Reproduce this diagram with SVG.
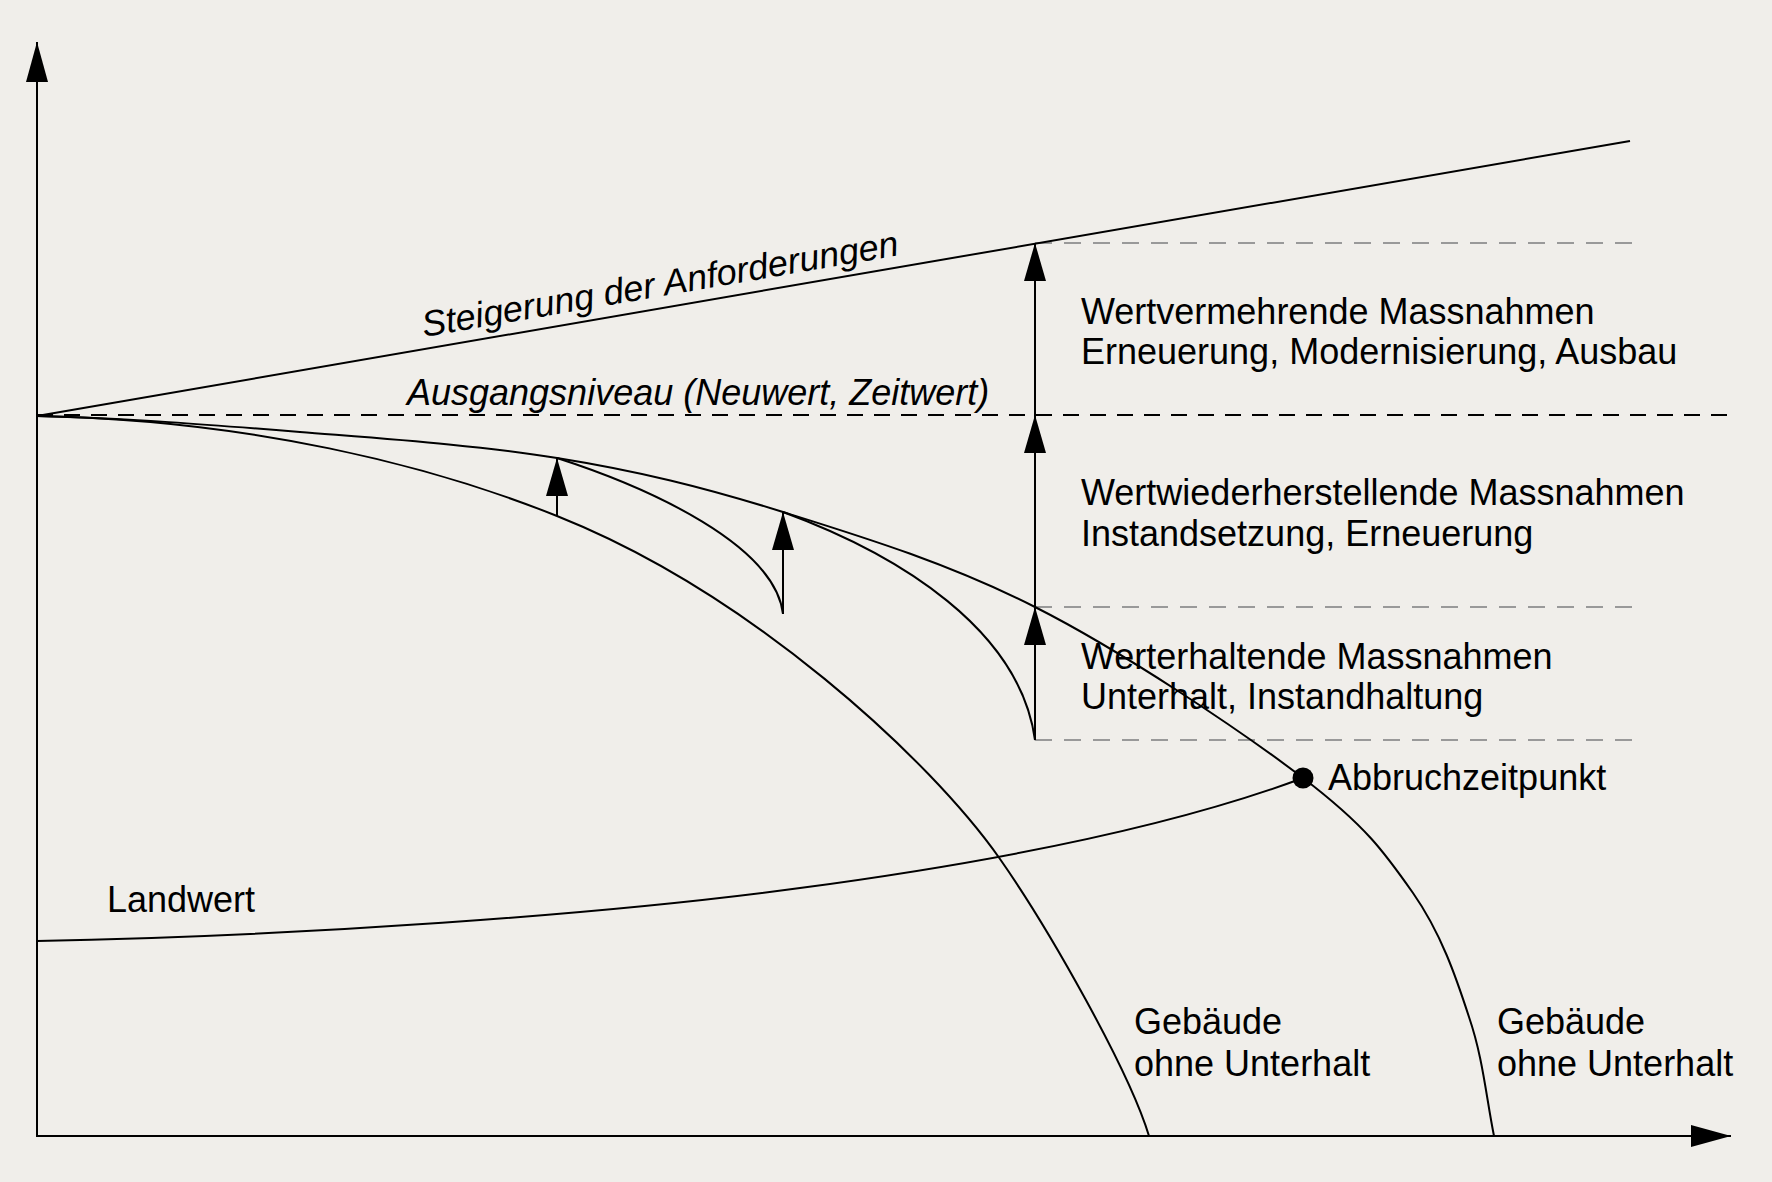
<svg xmlns="http://www.w3.org/2000/svg" width="1772" height="1182" viewBox="0 0 1772 1182">
<defs>
<style>
.ln{fill:none;stroke:#000;stroke-width:2}
.dash{fill:none;stroke:#000;stroke-width:2;stroke-dasharray:16 11}
.gdash{fill:none;stroke:#999;stroke-width:2;stroke-dasharray:17 12}
.t{font-family:"Liberation Sans",Arial,Helvetica,sans-serif;font-size:36px;fill:#000}
.ti{font-family:"Liberation Sans",Arial,Helvetica,sans-serif;font-size:36px;font-style:italic;fill:#000}
</style>
<marker id="ah" markerUnits="userSpaceOnUse" markerWidth="40" markerHeight="24" refX="38" refY="11" orient="auto">
<path d="M0,0 L38,11 L0,22 Z" fill="#000"/>
</marker>
<marker id="ax" markerUnits="userSpaceOnUse" markerWidth="42" markerHeight="24" refX="40" refY="11" orient="auto">
<path d="M0,0 L40,11 L0,22 Z" fill="#000"/>
</marker>
</defs>
<rect width="1772" height="1182" fill="#f0eeea"/>

<g id="axes">
<line class="ln" x1="37" y1="1136" x2="37" y2="42" marker-end="url(#ax)"/>
<line class="ln" x1="36" y1="1136" x2="1731" y2="1136" marker-end="url(#ax)"/>
</g>

<g id="guides">
<line class="dash" x1="37" y1="415" x2="1731" y2="415"/>
<line class="gdash" x1="1035" y1="243" x2="1641" y2="243"/>
<line class="gdash" x1="1035" y1="607" x2="1641" y2="607"/>
<line class="gdash" x1="1035" y1="740" x2="1641" y2="740"/>
</g>

<g id="connectors">
<line id="steigerung-line" class="ln" x1="37" y1="416" x2="1630" y2="141"/>
<path id="curve-maintained" class="ln" d="M37,416 C125,418 213,425 300,432 C387,439 477,445 557,458 C638,471 703,487 783,512 C863,537 948,563 1035,607 C1122,651 1240,730 1303,778 C1366,826 1385,853 1413,893 C1441,933 1456,977 1469,1017 C1483,1058 1486,1096 1494,1136"/>
<path id="curve-no-maintenance" class="ln" d="M37,416 C250,420 430,465 557,516 C750,593 930,759 1000,859 C1049,929 1129,1070 1149,1136"/>
<path id="branch-1" class="ln" d="M557,458 C650,488 775,545 783,614"/>
<path id="branch-2" class="ln" d="M783,512 C900,555 1020,630 1035,740"/>
<path id="landwert-curve" class="ln" d="M37,941 C300,936 600,915 800,888 C950,868 1150,835 1303,778"/>
<line class="ln" x1="557" y1="516" x2="557" y2="458" marker-end="url(#ah)"/>
<line class="ln" x1="783" y1="614" x2="783" y2="512" marker-end="url(#ah)"/>
<line class="ln" x1="1035" y1="740" x2="1035" y2="607" marker-end="url(#ah)"/>
<line class="ln" x1="1035" y1="607" x2="1035" y2="415" marker-end="url(#ah)"/>
<line class="ln" x1="1035" y1="415" x2="1035" y2="243" marker-end="url(#ah)"/>
</g>

<g id="abbruch">
<circle cx="1303" cy="778" r="10.5" fill="#000"/>
<text class="t" x="1328" y="790">Abbruchzeitpunkt</text>
</g>

<g id="labels">
<text class="ti" transform="translate(424,337) rotate(-9.76)">Steigerung der Anforderungen</text>
<text class="ti" x="407" y="405">Ausgangsniveau (Neuwert, Zeitwert)</text>
<text class="t" x="1081" y="324">Wertvermehrende Massnahmen</text>
<text class="t" x="1081" y="364">Erneuerung, Modernisierung, Ausbau</text>
<text class="t" x="1081" y="505">Wertwiederherstellende Massnahmen</text>
<text class="t" x="1081" y="546">Instandsetzung, Erneuerung</text>
<text class="t" x="1081" y="669">Werterhaltende Massnahmen</text>
<text class="t" x="1081" y="709">Unterhalt, Instandhaltung</text>
<text class="t" x="107" y="912">Landwert</text>
<text class="t" x="1134" y="1034">Gebäude</text>
<text class="t" x="1134" y="1076">ohne Unterhalt</text>
<text class="t" x="1497" y="1034">Gebäude</text>
<text class="t" x="1497" y="1076">ohne Unterhalt</text>
</g>
</svg>
